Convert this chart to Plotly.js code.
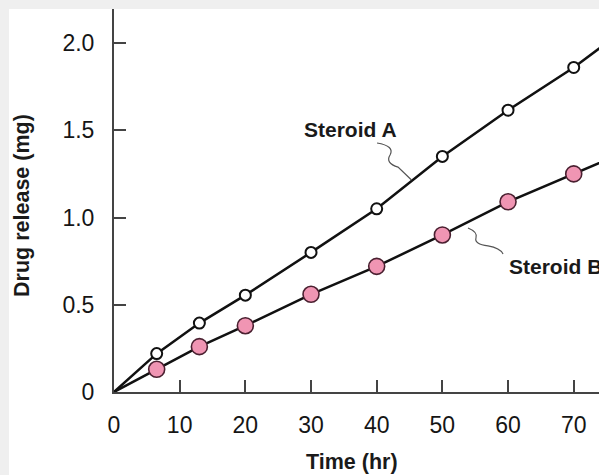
<!DOCTYPE html>
<html>
<head>
<meta charset="utf-8">
<script src="https://cdn.plot.ly/plotly-3.0.1.min.js"></script>
<style>
html, body { margin:0; padding:0; width:599px; height:475px; overflow:hidden; background:#efefef; }
#chart { position:absolute; left:9px; top:9px; width:590px; height:466px; background:#fff; }
</style>
</head>
<body>
<div id="chart"></div>
<script>
// Data
const timeHr = [6.5, 13, 20, 30, 40, 50, 60, 70];
const steroidA = [0.22, 0.395, 0.555, 0.80, 1.05, 1.35, 1.615, 1.86];
const steroidB = [0.13, 0.26, 0.38, 0.56, 0.72, 0.90, 1.09, 1.25];
// line start (origin) and end past the frame
const lineStartTime = 0, lineEndTime = 75;
const lineStartValue = 0;
const lineEndA = 2.0;
const lineEndB = 1.33;
const xTickVals = [0, 10, 20, 30, 40, 50, 60, 70];
const xTickText = ['0', '10', '20', '30', '40', '50', '60', '70'];
const yTickVals = [0, 0.5, 1.0, 1.5, 2.0];
const yTickText = ['0', '0.5', '1.0', '1.5', '2.0'];
const seriesNames = ['Steroid A', 'Steroid B'];

const boldFamily = 'Liberation Sans, Arial, sans-serif';
const axisTitleFont = { family: boldFamily, size: 21.5, color: '#1a1a1a', weight: 'bold' };
const labelFont = { family: boldFamily, size: 21, color: '#1a1a1a', weight: 'bold' };
const tickFont = { family: 'Liberation Sans, Arial, sans-serif', size: 23, color: '#151515' };

const lineX = [lineStartTime].concat(timeHr, [lineEndTime]);
const traces = [
  { x: lineX, y: [lineStartValue].concat(steroidA, [lineEndA]), mode: 'lines', line: { color: '#111', width: 2.5 }, hoverinfo: 'skip', showlegend: false },
  { x: lineX, y: [lineStartValue].concat(steroidB, [lineEndB]), mode: 'lines', line: { color: '#111', width: 2.5 }, hoverinfo: 'skip', showlegend: false },
  { x: timeHr, y: steroidA, name: seriesNames[0], mode: 'markers', marker: { size: 11, color: '#ffffff', line: { color: '#111', width: 2 } }, cliponaxis: false },
  { x: timeHr, y: steroidB, name: seriesNames[1], mode: 'markers', marker: { size: 16, color: '#f095b3', line: { color: '#4a2030', width: 1.6 } }, cliponaxis: false }
];

const layout = {
  width: 590, height: 466,
  margin: { l: 105, r: 0, t: 0, b: 83 },
  paper_bgcolor: '#ffffff', plot_bgcolor: '#ffffff',
  showlegend: false,
  xaxis: {
    range: [0, 73.85], showgrid: false, zeroline: false,
    showline: true, linecolor: '#444', linewidth: 2,
    ticks: 'inside', ticklen: 12, tickwidth: 2, tickcolor: '#444',
    tickvals: xTickVals, ticktext: xTickText, tickfont: tickFont,
    ticklabelstandoff: 11, fixedrange: true
  },
  yaxis: {
    range: [0, 2.195], showgrid: false, zeroline: false,
    showline: true, linecolor: '#444', linewidth: 2,
    ticks: 'inside', ticklen: 12, tickwidth: 2, tickcolor: '#444',
    tickvals: yTickVals, ticktext: yTickText, tickfont: tickFont,
    ticklabelstandoff: 13, fixedrange: true
  },
  annotations: [
    { text: 'Time (hr)', xref: 'paper', yref: 'paper', x: 0.491, y: -0.182, xanchor: 'center', yanchor: 'middle', showarrow: false, font: axisTitleFont },
    { text: 'Drug release (mg)', xref: 'paper', yref: 'paper', x: -0.190, y: 0.488, xanchor: 'center', yanchor: 'middle', textangle: -90, showarrow: false, font: axisTitleFont },
    { text: seriesNames[0], xref: 'x', yref: 'y', x: 35.94, y: 1.507, xanchor: 'center', yanchor: 'middle', showarrow: false, font: labelFont },
    { text: seriesNames[1], xref: 'x', yref: 'y', x: 59.8, y: 0.722, xanchor: 'left', yanchor: 'middle', showarrow: false, font: labelFont }
  ],
  shapes: [
    { type: 'path', xref: 'x', yref: 'y', path: 'M 40.05 1.427 Q 42.79 1.410 42.03 1.358 Q 41.27 1.312 43.25 1.289 L 45.3 1.215', line: { color: '#555', width: 1.2 } },
    { type: 'path', xref: 'x', yref: 'y', path: 'M 53.9 0.94 Q 55.43 0.917 55.12 0.883 Q 54.82 0.848 56.95 0.837 Q 58.78 0.825 59.24 0.791', line: { color: '#555', width: 1.2 } }
  ]
};

Plotly.newPlot('chart', traces, layout, { displayModeBar: false, staticPlot: true });
</script>
</body>
</html>
